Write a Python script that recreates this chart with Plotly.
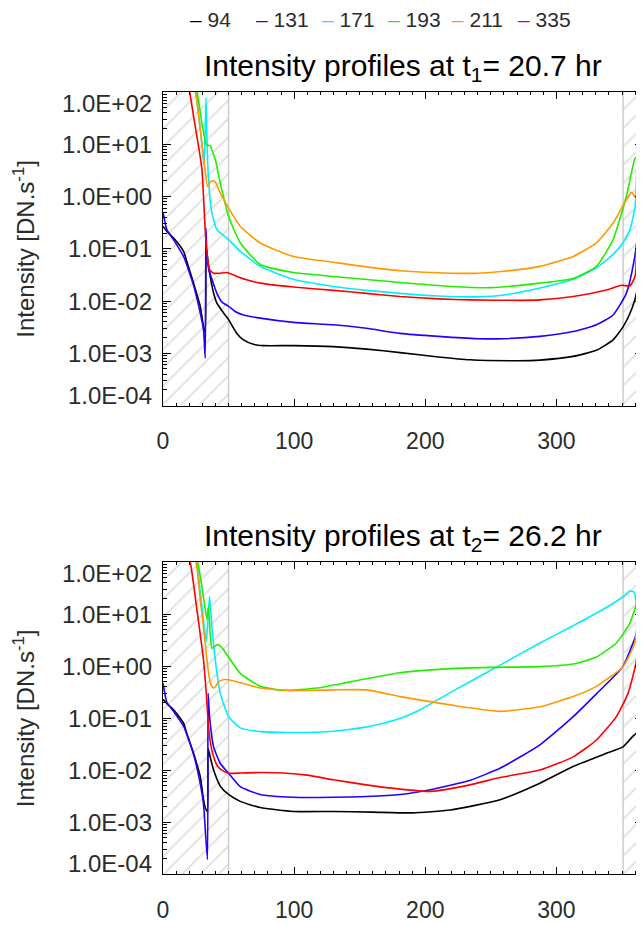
import plotly.graph_objects as go

# ---------------- data ----------------
CHANNELS = ["94", "131", "171", "193", "211", "335"]
COLORS = ["#000000", "#2200ff", "#00eeff", "#22ee00", "#ff9900", "#ff0000"]

X_TICKS = [0, 100, 200, 300]
Y_TICK_VALUES = [1e2, 1e1, 1e0, 1e-1, 1e-2, 1e-3, 1e-4]
Y_TICK_LABELS = ["1.0E+02", "1.0E+01", "1.0E+00", "1.0E-01", "1.0E-02", "1.0E-03", "1.0E-04"]
TITLES = ["Intensity profiles at t<sub>1</sub>= 20.7 hr",
          "Intensity profiles at t<sub>2</sub>= 26.2 hr"]
Y_TITLE = "Intensity [DN.s<sup>-1</sup>]"
HATCH_LEFT = (0, 50)
HATCH_RIGHT = (350.8, 366)
X_RANGE = (0, 366)

# ---- t1 = 20.7 hr ----
T1_X_94 = [0, 3, 8.1, 15.7, 18.2, 23.3, 28.4, 30.9, 32.2, 32.8, 33.3, 34.5, 36, 38.6, 41.1, 46.2, 50, 56.3,
           61.4, 69, 76.6, 99.5, 130, 155.4, 180.7, 210, 234, 270, 287.4, 312.7, 330.5, 343.2, 350.8, 357.2,
           361, 362.3, 362.9, 363.3, 364.5, 366]
T1_Y_94 = [0.27, 0.215, 0.16, 0.089, 0.057, 0.022, 0.0079, 0.0032, 0.0025, 0.08, 0.096, 0.05, 0.0295, 0.0141,
           0.0091, 0.0059, 0.0044, 0.0024, 0.0018, 0.00148, 0.0014, 0.0014, 0.00134, 0.0012, 0.00103, 0.00085,
           0.00075, 0.00072, 0.00074, 0.00087, 0.00114, 0.0018, 0.0032, 0.0068, 0.014, 0.04, 0.1, 0.003, 0.004,
           0.008]

T1_X_131 = [0, 3, 8.1, 15.7, 23.3, 28.4, 30.9, 32.2, 32.7, 33.5, 35, 37.3, 41.1, 45, 50, 55, 61.4, 74.1, 99.5,
            130, 155, 180.7, 210, 240, 260, 287.4, 312.7, 330.5, 343.2, 353.3, 358.4, 361.7, 362.8, 363.5,
            364.5, 366]
T1_Y_131 = [0.5, 0.23, 0.148, 0.071, 0.02, 0.0059, 0.0028, 0.0008, 0.25, 0.075, 0.04, 0.026, 0.014, 0.0095,
            0.0079, 0.0063, 0.0054, 0.0047, 0.0039, 0.0035, 0.003, 0.0024, 0.0021, 0.0019, 0.0019, 0.0021,
            0.0026, 0.0035, 0.0054, 0.014, 0.046, 0.17, 0.6, 0.0006, 0.003, 0.006]

T1_X_171 = [0, 15, 25, 28.4, 31.2, 32.2, 32.8, 33.4, 34.7, 37.3, 41.1, 44.9, 50, 58.9, 74.1, 99.5, 130, 155,
            180.7, 210, 240, 260, 287.4, 312.7, 330.5, 343.2, 350.8, 356, 360, 361.5, 363, 363.8, 365]
T1_Y_171 = [3000, 400, 100, 20, 4.0, 20, 77, 15, 2.1, 0.48, 0.23, 0.19, 0.15, 0.089, 0.046, 0.026, 0.019,
            0.016, 0.014, 0.0125, 0.012, 0.013, 0.0177, 0.026, 0.043, 0.078, 0.13, 0.23, 0.65, 5.5, 32, 90, 500]

T1_X_193 = [0, 15, 25.9, 29.7, 32, 33, 36, 37.5, 39.9, 43.7, 50, 58.9, 74.1, 99.5, 130, 180.7, 220, 250,
            287.4, 312.7, 330.5, 343.2, 353.3, 359.7, 361.7, 362.5, 363.8, 365]
T1_Y_193 = [3000, 500, 100, 25, 12, 9.8, 9.3, 7.5, 5.1, 1.8, 0.42, 0.13, 0.05, 0.035, 0.0295, 0.0226, 0.019,
            0.018, 0.022, 0.027, 0.046, 0.15, 1.0, 5.2, 5.9, 5.5, 46, 500]

T1_X_211 = [0, 15, 24.6, 28.4, 31.5, 34, 36, 38, 40, 43.7, 50, 58.9, 74.1, 99.5, 130, 155, 180.7, 220, 240,
            260, 287.4, 312.7, 330.5, 343.2, 352, 357.2, 360.6, 362, 363.2, 364.5]
T1_Y_211 = [3000, 400, 100, 19, 4.4, 1.55, 1.9, 2.0, 1.85, 1.17, 0.6, 0.27, 0.129, 0.071, 0.055, 0.045, 0.038,
            0.034, 0.034, 0.037, 0.046, 0.071, 0.13, 0.31, 0.76, 1.2, 0.93, 4, 40, 400]

T1_X_335 = [0, 10, 17, 20.3, 23.3, 27.1, 29.7, 31.5, 33, 35.5, 38.6, 43, 48.7, 52, 56.3, 65, 74.1, 99.5, 130,
            155, 180.7, 210, 234, 272, 287.4, 312.7, 338, 349.6, 356, 360, 361.5, 362.5, 363.8, 365]
T1_Y_335 = [3000, 600, 180, 100, 34, 9.2, 3.3, 0.49, 0.11, 0.04, 0.034, 0.034, 0.035, 0.033, 0.0295, 0.025,
            0.022, 0.0185, 0.016, 0.014, 0.0122, 0.011, 0.0105, 0.0103, 0.0105, 0.0122, 0.0162, 0.02, 0.0195,
            0.03, 0.2, 2.1, 40, 400]

# ---- t2 = 26.2 hr ----
T2_X_94 = [0, 3, 8.1, 15.7, 18.2, 23.3, 28.4, 30.9, 32.5, 33.8, 34.4, 35.5, 38.6, 43.7, 50, 58.9, 74.1, 99.5,
           130, 160, 190, 219, 257, 287.4, 312.7, 338, 350.7, 358.4, 361, 362, 362.6, 364, 366]
T2_Y_94 = [0.23, 0.19, 0.145, 0.08, 0.05, 0.021, 0.0075, 0.0027, 0.0018, 0.0016, 0.026, 0.02, 0.010, 0.0049,
           0.0034, 0.0025, 0.0019, 0.0016, 0.0016, 0.00155, 0.0015, 0.0017, 0.0027, 0.0056, 0.0117, 0.021,
           0.028, 0.045, 0.051, 0.04, 0.003, 0.003, 0.005]

T2_X_131 = [0, 3, 8.1, 15.7, 23.3, 28.4, 30.9, 33.9, 34.4, 35.5, 38.6, 43.7, 50, 58.9, 74.1, 99.5, 130, 155,
            180.9, 203.9, 234.4, 257.3, 287.7, 312.8, 330.8, 350.6, 362, 363, 363.8, 365]
T2_Y_131 = [0.47, 0.2, 0.135, 0.07, 0.02, 0.0055, 0.0022, 0.00019, 0.3, 0.107, 0.028, 0.0134, 0.0087, 0.0048,
            0.0034, 0.003, 0.003, 0.0031, 0.0034, 0.0042, 0.0064, 0.011, 0.031, 0.107, 0.30, 0.98, 5, 8,
            0.00019, 0.003]

T2_X_171 = [0, 15, 25.5, 29, 33, 34.5, 35.5, 37.3, 39.9, 43.7, 50, 58.9, 74.1, 99.5, 130, 155.4, 168, 180.7,
            195, 219, 257, 287.4, 312.7, 338, 350, 356, 359, 361, 362.3, 363.5, 364.5]
T2_Y_171 = [3000, 400, 100, 20, 3, 10, 22, 5.8, 1.3, 0.30, 0.107, 0.065, 0.055, 0.053, 0.056, 0.068, 0.08,
            0.098, 0.14, 0.31, 1.05, 2.8, 6.0, 13.5, 21, 28, 27, 16, 6, 20, 200]

T2_X_193 = [0, 15, 26.4, 30, 33.5, 34.7, 36, 37.3, 39, 42.4, 46, 50, 58.9, 74.1, 91.9, 117.3, 142.7, 180.7,
            219, 249, 287.4, 312.7, 330.5, 345.7, 355.9, 361, 363, 364.5]
T2_Y_193 = [3000, 500, 100, 30, 8, 14, 4, 2.2, 2.4, 2.6, 2.1, 1.5, 0.73, 0.41, 0.34, 0.38, 0.5, 0.75, 0.9,
            0.95, 0.98, 1.1, 1.5, 2.8, 6.7, 16, 53, 400]

T2_X_211 = [0, 15, 25.2, 28.4, 32.2, 34.7, 36.5, 38.6, 40.5, 42.4, 46, 50, 58.9, 74.1, 99.5, 130, 155.4, 180.7,
            219, 257, 287.4, 312.7, 330.5, 350.7, 359.7, 363, 364.5]
T2_Y_211 = [3000, 500, 100, 19, 2.8, 0.74, 0.45, 0.38, 0.42, 0.50, 0.55, 0.55, 0.48, 0.38, 0.34, 0.35, 0.35,
            0.26, 0.18, 0.135, 0.166, 0.26, 0.41, 0.98, 2.8, 25, 400]

T2_X_335 = [0, 10, 17, 20.8, 25.9, 30.9, 33, 34.7, 36.5, 38.6, 41.5, 44.9, 50, 60, 75, 91.9, 110, 130, 155,
            180.7, 204, 234, 257, 287.4, 312.7, 330.5, 345.7, 354.6, 361, 363, 364.5]
T2_Y_335 = [3000, 700, 200, 100, 12, 1.3, 0.30, 0.069, 0.03, 0.018, 0.012, 0.010, 0.0087, 0.0088, 0.009,
            0.0088, 0.008, 0.0065, 0.0052, 0.0043, 0.0039, 0.0052, 0.0072, 0.010, 0.018, 0.038, 0.107, 0.30,
            1.3, 25, 400]

PANELS = [
    [(T1_X_94, T1_Y_94), (T1_X_131, T1_Y_131), (T1_X_171, T1_Y_171),
     (T1_X_193, T1_Y_193), (T1_X_211, T1_Y_211), (T1_X_335, T1_Y_335)],
    [(T2_X_94, T2_Y_94), (T2_X_131, T2_Y_131), (T2_X_171, T2_Y_171),
     (T2_X_193, T2_Y_193), (T2_X_211, T2_Y_211), (T2_X_335, T2_Y_335)],
]

# ---------------- figure ----------------
# the page body has an 8 px margin, so the figure is sized to fit inside the window
OFF = 8
W, H = 644 - OFF, 925 - OFF
ML, MR, MT, MB = 155, 1, 84, 51
PW = W - ML - MR
PH = H - MT - MB
TOP_DOMAIN = [(H - MB - (405.5 - OFF)) / PH, 1.0]
BOT_DOMAIN = [0.0, (H - MB - (562.3 - OFF)) / PH]

FONT = "Liberation Sans, Arial, Helvetica, sans-serif"
LABEL_COLOR = "#2b2b2b"

fig = go.Figure()
axes = [("x", "y"), ("x2", "y2")]

for p, (xa, ya) in enumerate(axes):
    # hatched excluded regions
    for (h0, h1) in (HATCH_LEFT, HATCH_RIGHT):
        fig.add_trace(go.Scatter(
            x=[h0, h1, h1, h0, h0], y=[1e-4, 1e-4, 1e2, 1e2, 1e-4],
            xaxis=xa, yaxis=ya, mode="lines", fill="toself",
            line=dict(width=0), fillcolor="rgba(0,0,0,0)",
            fillpattern=dict(shape="/", fgcolor="#bdbdbd", bgcolor="rgba(0,0,0,0)",
                             size=13, solidity=0.13, fillmode="overlay"),
            hoverinfo="skip", showlegend=False))
    for (sx, sy), name, col in zip(PANELS[p], CHANNELS, COLORS):
        fig.add_trace(go.Scatter(
            x=sx, y=sy, xaxis=xa, yaxis=ya, mode="lines", name=name,
            line=dict(color=col, width=1.6, shape="spline", smoothing=0.5),
            showlegend=False))

minor_y = [m * 10.0 ** k for k in range(-4, 2) for m in range(2, 10)]

xaxis_common = dict(
    range=list(X_RANGE), showgrid=False, zeroline=False, showline=True, linecolor="black",
    linewidth=1, mirror="allticks", ticks="inside", ticklen=7, tickwidth=1, tickcolor="black",
    tickmode="array", tickvals=X_TICKS, ticktext=[str(v) for v in X_TICKS], automargin=False,
    tickfont=dict(family=FONT, size=23, color=LABEL_COLOR), ticklabelstandoff=15,
    minor=dict(ticks="inside", ticklen=3, tickcolor="black", dtick=10, tick0=0, showgrid=False),
)
yaxis_common = dict(
    type="log", range=[-4, 2], showgrid=False, zeroline=False, showline=True, linecolor="black",
    linewidth=1, mirror="allticks", ticks="inside", ticklen=8, tickwidth=1, tickcolor="black",
    tickmode="array", tickvals=Y_TICK_VALUES, showticklabels=False, automargin=False,
    minor=dict(ticks="inside", ticklen=4, tickcolor="black", tickmode="array", tickvals=minor_y,
               showgrid=False),
)

fig.update_layout(
    width=W, height=H, margin=dict(l=ML, r=MR, t=MT, b=MB, autoexpand=False),
    paper_bgcolor="white", plot_bgcolor="white", showlegend=False,
    font=dict(family=FONT, color="black"),
    xaxis=dict(xaxis_common, domain=[0, 1], anchor="y"),
    yaxis=dict(yaxis_common, domain=TOP_DOMAIN, anchor="x"),
    xaxis2=dict(xaxis_common, domain=[0, 1], anchor="y2"),
    yaxis2=dict(yaxis_common, domain=BOT_DOMAIN, anchor="x2"),
)

shapes = []
for xa, ya in axes:
    for xv in (HATCH_LEFT[1], HATCH_RIGHT[0]):
        shapes.append(dict(type="line", xref=xa, yref=f"{ya} domain", x0=xv, x1=xv, y0=0, y1=1,
                           line=dict(color="#cccccc", width=1.5), layer="below"))
fig.update_layout(shapes=shapes)

ann = []
# y tick labels (top/bottom labels pulled inside the frame, as in the original)
label_pos = [1.78, 1.0, 0.0, -1.0, -2.0, -3.0, -3.8]
for xa, ya in axes:
    for txt, lp in zip(Y_TICK_LABELS, label_pos):
        ann.append(dict(text=txt, xref=f"{xa} domain", yref=ya, x=0, y=lp, xanchor="right",
                        yanchor="middle", xshift=-9, showarrow=False,
                        font=dict(family=FONT, size=24, color=LABEL_COLOR)))
    # y axis title
    ann.append(dict(text=Y_TITLE, xref="paper", yref=f"{ya} domain", x=(24 - OFF - ML) / PW, y=0.5,
                    xanchor="center", yanchor="middle", textangle=-90, showarrow=False,
                    font=dict(family=FONT, size=24, color=LABEL_COLOR)))
# titles
for (xa, ya), t in zip(axes, TITLES):
    ann.append(dict(text=t, xref="paper", yref=f"{ya} domain", x=0.5, y=1, yanchor="bottom",
                    xanchor="center", yshift=4, showarrow=False,
                    font=dict(family=FONT, size=30, color="black")))
# legend
LEG_X = [188, 254, 320, 386, 450, 516]
for px, name, col in zip(LEG_X, CHANNELS, COLORS):
    ann.append(dict(text=f"<span style='color:{col}'>\u2013</span> {name}", xref="paper", yref="paper",
                    x=(px - OFF - ML) / PW, y=1 + (MT - (20 - OFF)) / PH, xanchor="left",
                    yanchor="middle", showarrow=False, font=dict(family=FONT, size=21, color=LABEL_COLOR)))
fig.update_layout(annotations=ann)

fig.write_html("out.html")
